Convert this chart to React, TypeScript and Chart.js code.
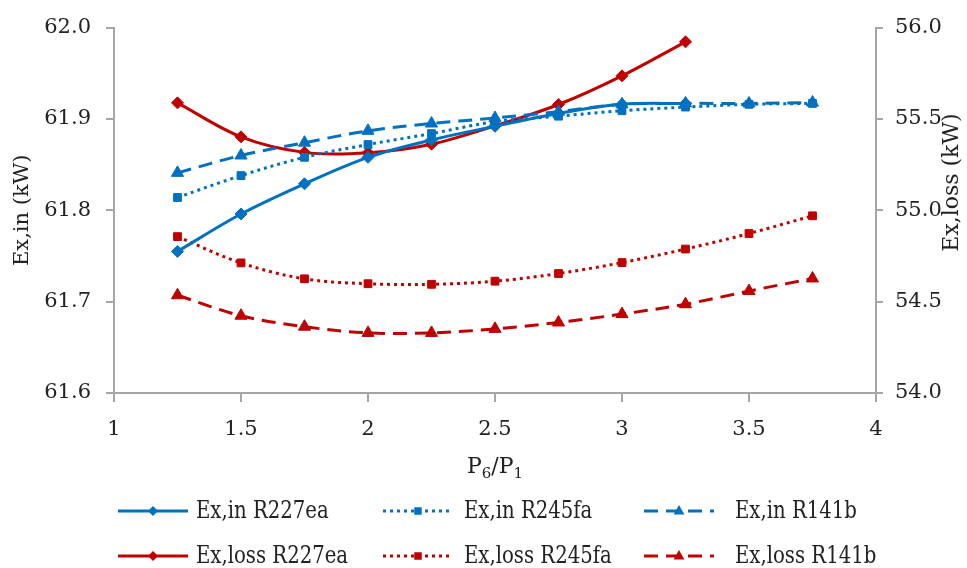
import React, { useEffect, useRef } from 'react';
import { Chart, registerables } from 'chart.js';

Chart.register(...registerables);

// ---------- data ----------
const xValues = [1.25, 1.5, 1.75, 2, 2.25, 2.5, 2.75, 3, 3.25, 3.5, 3.75];

const exInR227ea = [61.755, 61.796, 61.829, 61.858, 61.877, 61.892, 61.906, 61.916, 61.917];
const exInR245fa = [61.814, 61.838, 61.858, 61.872, 61.884, 61.897, 61.903, 61.909, 61.913, 61.916, 61.917];
const exInR141b = [61.841, 61.860, 61.874, 61.887, 61.895, 61.901, 61.908, 61.916, 61.917, 61.917, 61.918];

const exLossR227ea = [55.588, 55.402, 55.317, 55.315, 55.362, 55.462, 55.579, 55.736, 55.922];
const exLossR245fa = [54.856, 54.712, 54.625, 54.598, 54.595, 54.612, 54.654, 54.714, 54.788, 54.873, 54.970];
const exLossR141b = [54.535, 54.423, 54.363, 54.329, 54.329, 54.351, 54.386, 54.432, 54.486, 54.558, 54.627];

const seriesLabels = [
  'Ex,in R227ea',
  'Ex,in R245fa',
  'Ex,in R141b',
  'Ex,loss R227ea',
  'Ex,loss R245fa',
  'Ex,loss R141b',
];

const leftAxisTitle = 'Ex,in (kW)';
const rightAxisTitle = 'Ex,loss (kW)';
const xTitleParts = ['P', '6', '/P', '1'];

// ---------- style ----------
const BLUE = '#0070C0';
const RED = '#C00000';
const AXIS = '#a6a6a6';
const TEXT = '#222222';
const FONT = '"DejaVu Serif", serif';

const toPoints = (vals: number[]) => vals.map((v, i) => ({ x: xValues[i], y: v }));

type Style = { color: string; dash: number[]; shape: 'diamond' | 'square' | 'triangle' };
const styles: Style[] = [
  { color: BLUE, dash: [], shape: 'diamond' },
  { color: BLUE, dash: [3, 4], shape: 'square' },
  { color: BLUE, dash: [14, 8], shape: 'triangle' },
  { color: RED, dash: [], shape: 'diamond' },
  { color: RED, dash: [3, 4], shape: 'square' },
  { color: RED, dash: [14, 8], shape: 'triangle' },
];

const pointStyleOf = (s: Style['shape']) => (s === 'diamond' ? 'rectRot' : s === 'square' ? 'rect' : 'triangle');
const radiusOf = (s: Style['shape']) => (s === 'diamond' ? 6 : s === 'square' ? 5.5 : 7);

function drawMarker(ctx: CanvasRenderingContext2D, shape: Style['shape'], x: number, y: number, r: number) {
  ctx.beginPath();
  if (shape === 'diamond') {
    ctx.moveTo(x, y - r);
    ctx.lineTo(x + r, y);
    ctx.lineTo(x, y + r);
    ctx.lineTo(x - r, y);
  } else if (shape === 'square') {
    ctx.rect(x - r * 0.75, y - r * 0.75, r * 1.5, r * 1.5);
  } else {
    ctx.moveTo(x, y - r);
    ctx.lineTo(x + r * 0.9, y + r * 0.6);
    ctx.lineTo(x - r * 0.9, y + r * 0.6);
  }
  ctx.closePath();
  ctx.fill();
}

const decorPlugin = {
  id: 'decor',
  afterDraw(chart: any) {
    const ctx: CanvasRenderingContext2D = chart.ctx;
    const area = chart.chartArea;
    ctx.save();
    ctx.fillStyle = TEXT;

    // x-axis title with subscripts
    const big = '22px ' + FONT;
    const small = '15px ' + FONT;
    const fonts = [big, small, big, small];
    const offs = [0, 5, 0, 5];
    let total = 0;
    const widths = xTitleParts.map((t, i) => {
      ctx.font = fonts[i];
      const w = ctx.measureText(t).width;
      total += w;
      return w;
    });
    let x = (area.left + area.right) / 2 - total / 2;
    const base = area.bottom + 80;
    ctx.textBaseline = 'alphabetic';
    ctx.textAlign = 'left';
    xTitleParts.forEach((t, i) => {
      ctx.font = fonts[i];
      ctx.fillText(t, x, base + offs[i]);
      x += widths[i];
    });

    // right axis title (reads bottom to top)
    const rs = chart.scales.y1;
    ctx.save();
    ctx.translate(rs.right - 15, area.top + 155);
    ctx.rotate(-Math.PI / 2);
    ctx.font = '22px ' + FONT;
    ctx.textAlign = 'center';
    ctx.textBaseline = 'middle';
    ctx.fillText(rightAxisTitle, 0, 0);
    ctx.restore();

    // legend (3 columns x 2 rows)
    const colSample = [118, 383, 644];
    const colText = [196, 464, 735];
    const rowBase = [518, 563];
    chart.data.datasets.forEach((ds: any, i: number) => {
      const row = i < 3 ? 0 : 1;
      const col = i % 3;
      const st = styles[i];
      const ly = rowBase[row] - 7;
      ctx.save();
      ctx.strokeStyle = st.color;
      ctx.fillStyle = st.color;
      ctx.lineWidth = 3;
      ctx.setLineDash(st.dash);
      ctx.beginPath();
      ctx.moveTo(colSample[col], ly);
      ctx.lineTo(colSample[col] + 70, ly);
      ctx.stroke();
      ctx.setLineDash([]);
      drawMarker(ctx, st.shape, colSample[col] + 35, ly, st.shape === 'triangle' ? 6 : 5);
      ctx.restore();

      ctx.save();
      ctx.fillStyle = TEXT;
      ctx.font = '24px ' + FONT;
      ctx.textAlign = 'left';
      ctx.textBaseline = 'alphabetic';
      ctx.translate(colText[col], rowBase[row]);
      ctx.scale(0.82, 1);
      ctx.fillText(ds.label, 0, 0);
      ctx.restore();
    });

    ctx.restore();
  },
};

export default function App() {
  const canvasRef = useRef<HTMLCanvasElement | null>(null);

  useEffect(() => {
    document.body.style.margin = '0';
    document.body.style.overflow = 'hidden';
    const canvas = canvasRef.current;
    if (!canvas) return;

    const seriesValues = [exInR227ea, exInR245fa, exInR141b, exLossR227ea, exLossR245fa, exLossR141b];

    const datasets = seriesValues.map((vals, i) => {
      const st = styles[i];
      return {
        label: seriesLabels[i],
        data: toPoints(vals),
        yAxisID: i < 3 ? 'y' : 'y1',
        borderColor: st.color,
        backgroundColor: st.color,
        borderWidth: 3,
        borderDash: st.dash,
        borderCapStyle: 'butt' as const,
        pointStyle: pointStyleOf(st.shape),
        pointRadius: radiusOf(st.shape),
        pointBackgroundColor: st.color,
        pointBorderColor: st.color,
        pointBorderWidth: 1,
        tension: 0.35,
        fill: false,
      };
    });

    const tickFont = { family: FONT, size: 21 };

    const chart = new Chart(canvas, {
      type: 'line',
      data: { datasets },
      plugins: [decorPlugin],
      options: {
        animation: false,
        responsive: true,
        maintainAspectRatio: false,
        layout: { padding: { left: 0, right: 0, top: 24, bottom: 0 } },
        plugins: {
          legend: { display: false },
          tooltip: { enabled: false },
        },
        scales: {
          x: {
            type: 'linear',
            min: 1,
            max: 4,
            ticks: {
              stepSize: 0.5,
              color: TEXT,
              font: tickFont,
              padding: 15,
              callback: (v: any) => String(Math.round(Number(v) * 10) / 10),
            },
            grid: { display: true, drawOnChartArea: false, drawTicks: true, tickLength: 9, color: AXIS, lineWidth: 2 },
            border: { display: true, color: AXIS, width: 2 },
            afterFit: (s: any) => {
              s.height = 175;
            },
          },
          y: {
            type: 'linear',
            position: 'left',
            min: 61.6,
            max: 62.0,
            ticks: {
              stepSize: 0.1,
              color: TEXT,
              font: tickFont,
              padding: 15,
              callback: (v: any) => Number(v).toFixed(1),
            },
            grid: { display: true, drawOnChartArea: false, drawTicks: true, tickLength: 8, color: AXIS, lineWidth: 2 },
            border: { display: true, color: AXIS, width: 2 },
            title: {
              display: true,
              text: leftAxisTitle,
              color: TEXT,
              font: { family: FONT, size: 21 },
              padding: { top: 10, bottom: 0 },
            },
            afterFit: (s: any) => {
              s.width = 114;
            },
          },
          y1: {
            type: 'linear',
            position: 'right',
            min: 54.0,
            max: 56.0,
            ticks: {
              stepSize: 0.5,
              color: TEXT,
              font: tickFont,
              padding: 12,
              callback: (v: any) => Number(v).toFixed(1),
            },
            grid: { display: true, drawOnChartArea: false, drawTicks: true, tickLength: 7, color: AXIS, lineWidth: 2 },
            border: { display: true, color: AXIS, width: 2 },
            afterFit: (s: any) => {
              s.width = 91;
            },
          },
        },
      },
    });

    return () => {
      chart.destroy();
    };
  }, []);

  return (
    <div style={{ position: 'relative', width: '967px', height: '568px' }}>
      <canvas ref={canvasRef} />
    </div>
  );
}
